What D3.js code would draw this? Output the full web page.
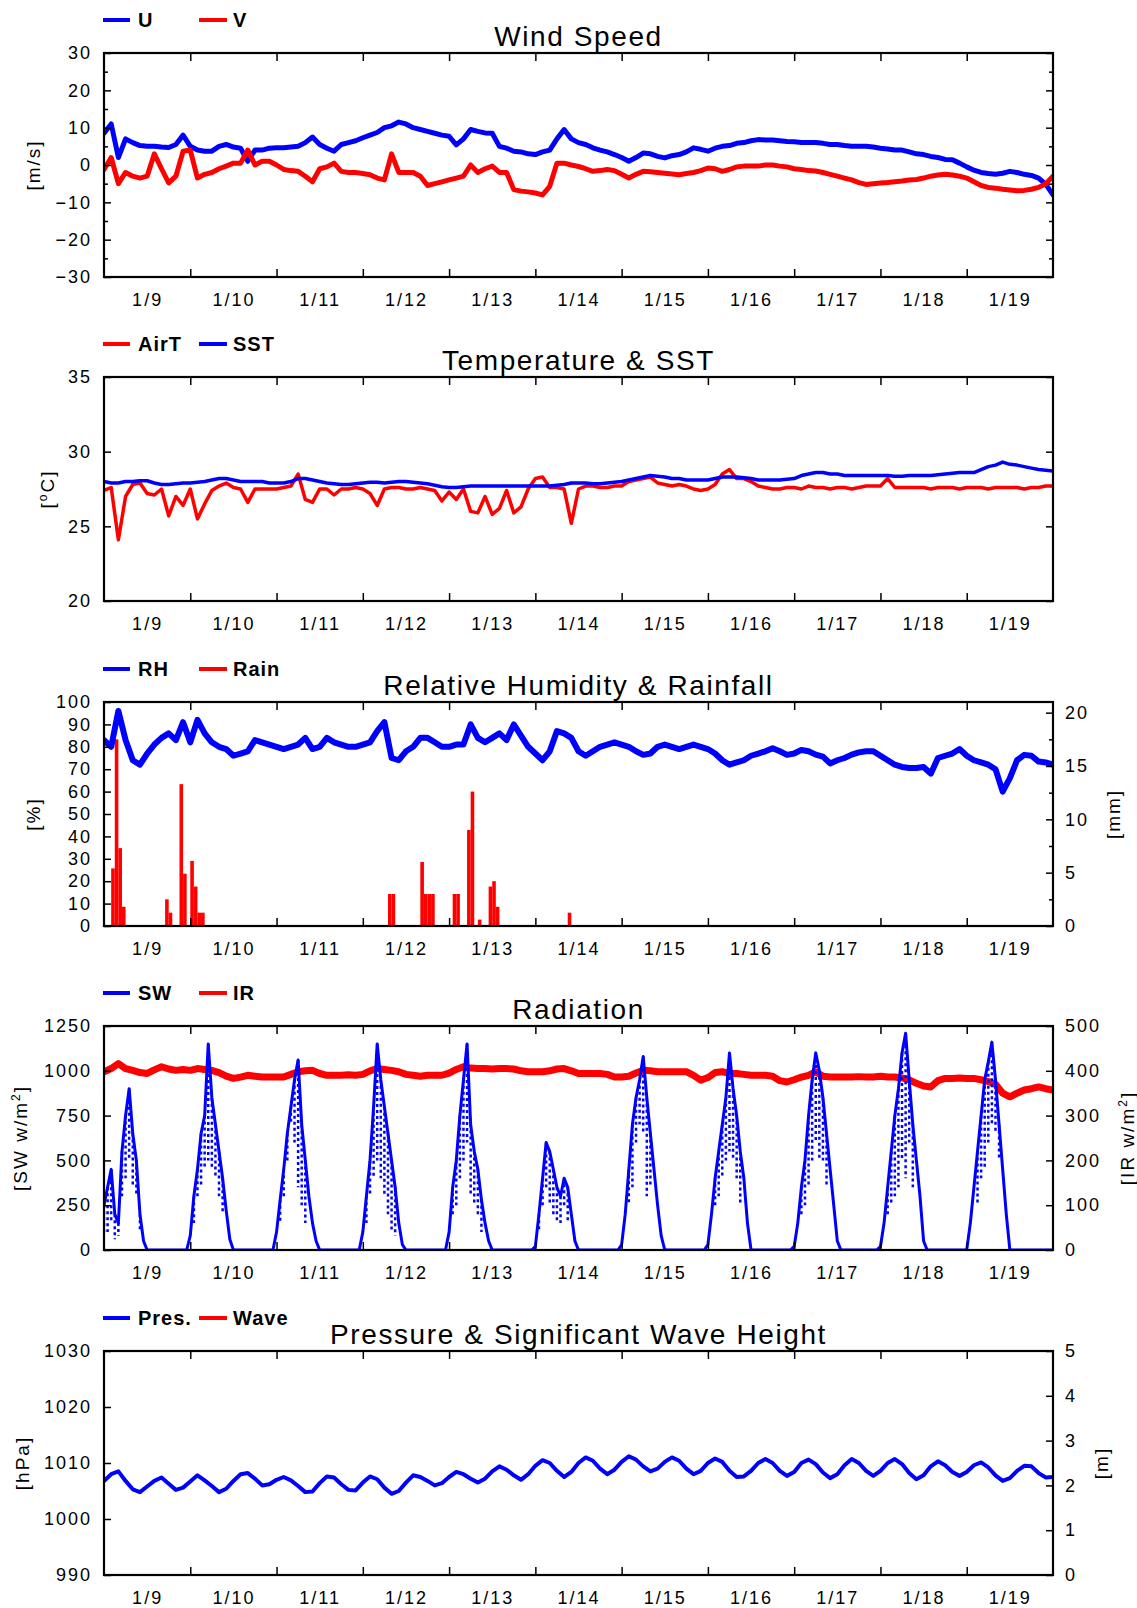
<!DOCTYPE html>
<html>
<head>
<meta charset="utf-8">
<title>Buoy observations</title>
<script src="https://cdn.jsdelivr.net/npm/d3@7"></script>
<style>
  body { margin: 0; background: #fff; }
  svg text { font-family: "Liberation Sans", Arial, sans-serif; fill: #000; }
  .tick-label { font-size: 18px; letter-spacing: 2px; }
  .title { font-size: 28px; letter-spacing: 1.6px; }
  .legend { font-size: 20px; font-weight: bold; letter-spacing: 1px; }
  .axis-title { font-size: 19px; letter-spacing: 2px; }
</style>
</head>
<body>
<svg id="chart"></svg>
<script>
// ---- data (2-hourly unless noted, starting 1/9 00:00) ----
var uWind = [8.5,11,2,7,6,5.2,5,5,4.8,4.7,5.5,8,5,4,3.7,3.7,5,5.5,4.8,4.5,
  1,4,4,4.5,4.6,4.6,4.8,5,6,7.5,5.5,4.5,3.7,5.5,6,6.5,7.3,8,8.7,10,
  10.5,11.5,11,10,9.5,9,8.5,8,7.7,5.4,7,9.5,9,8.6,8.5,5,4.5,3.7,3.5,3,
  2.8,3.5,4,7,9.5,7,6,5.5,4.6,4,3.5,2.8,2,1,2,3.2,3,2.3,1.9,2.5,
  2.8,3.5,4.6,4.2,3.7,4.5,5,5.2,5.8,6,6.5,6.8,6.7,6.7,6.5,6.3,6.2,6,6,6,
  5.8,5.5,5.5,5.2,5,5,5,4.8,4.5,4.3,4,4,3.5,3,2.8,2.3,2,1.5,1.4,0.5,
  -0.5,-1.4,-2,-2.3,-2.5,-2.2,-1.7,-2,-2.5,-2.8,-3.5,-5.2,-8];
var vWind = [-1.2,2,-5,-2,-3,-3.5,-3,3,-1,-4.8,-3,3.7,4,-3.5,-2.5,-2,-1,-0.3,0.5,0.5,
  4,0,1,1,0,-1.2,-1.5,-1.7,-3,-4.5,-1,-0.5,0.5,-1.7,-2,-2,-2.3,-2.6,-3.5,-4,
  3,-2,-2,-2,-3,-5.5,-5,-4.5,-4,-3.5,-3,0,-2,-1,-0.3,-2,-2,-6.6,-7,-7.2,
  -7.5,-8,-5.7,0.5,0.5,0,-0.4,-1,-1.7,-1.5,-1.2,-1.5,-2.5,-3.5,-2.5,-1.7,-1.8,-2,-2.2,-2.4,
  -2.6,-2.3,-2,-1.5,-0.8,-1,-1.7,-1.2,-0.5,-0.3,-0.3,-0.3,0,0,-0.3,-0.5,-1,-1.2,-1.5,-1.6,
  -2,-2.5,-3,-3.5,-4,-4.7,-5.2,-5,-4.8,-4.7,-4.5,-4.3,-4,-3.9,-3.5,-3,-2.7,-2.5,-2.7,-3,
  -3.5,-4.5,-5.5,-6,-6.2,-6.5,-6.7,-6.9,-6.8,-6.5,-6,-5,-3];
var airTemp = [27.4,27.6,24.1,27.0,27.8,27.9,27.2,27.1,27.5,25.7,27.0,26.4,27.5,25.5,26.5,27.4,27.7,27.9,27.6,27.5,
  26.6,27.5,27.5,27.5,27.5,27.6,27.7,28.5,26.8,26.6,27.5,27.5,27.1,27.5,27.5,27.6,27.5,27.2,26.4,27.5,
  27.6,27.6,27.5,27.5,27.6,27.5,27.4,26.7,27.3,26.8,27.5,26.0,25.9,27.0,25.8,26.2,27.4,25.9,26.3,27.5,
  28.2,28.3,27.6,27.6,27.5,25.2,27.5,27.7,27.7,27.6,27.6,27.7,27.7,28.0,28.1,28.2,28.3,27.9,27.8,27.7,
  27.8,27.7,27.5,27.4,27.5,27.8,28.5,28.8,28.2,28.2,28.0,27.7,27.6,27.5,27.5,27.6,27.6,27.5,27.7,27.6,
  27.6,27.5,27.6,27.6,27.5,27.6,27.7,27.7,27.7,28.2,27.6,27.6,27.6,27.6,27.6,27.5,27.6,27.6,27.6,27.5,
  27.6,27.6,27.6,27.5,27.6,27.6,27.6,27.6,27.5,27.6,27.6,27.7,27.7];
var seaTemp = [28.0,27.9,27.9,28.0,28.0,28.05,28.05,27.9,27.8,27.8,27.85,27.9,27.9,27.95,28.0,28.1,28.2,28.2,28.1,28.0,
  28.0,28.0,28.0,27.9,27.9,27.9,28.0,28.2,28.2,28.1,28.0,27.9,27.85,27.8,27.8,27.85,27.9,27.95,27.95,27.9,
  27.95,28.0,28.0,27.95,27.9,27.85,27.75,27.65,27.6,27.6,27.65,27.7,27.7,27.7,27.7,27.7,27.7,27.7,27.7,27.7,
  27.7,27.7,27.7,27.75,27.8,27.9,27.9,27.9,27.85,27.85,27.9,27.95,28.0,28.1,28.2,28.3,28.4,28.35,28.3,28.2,
  28.2,28.1,28.1,28.1,28.1,28.2,28.3,28.3,28.3,28.25,28.2,28.1,28.1,28.1,28.1,28.15,28.2,28.4,28.5,28.6,
  28.6,28.5,28.5,28.4,28.4,28.4,28.4,28.4,28.4,28.4,28.35,28.35,28.4,28.4,28.4,28.4,28.45,28.5,28.55,28.6,
  28.6,28.6,28.8,29.0,29.1,29.3,29.15,29.1,29.0,28.9,28.8,28.75,28.7];
var relHum = [83,80,96,83,74,72,77,81,84,86,83,91,82,92,86,82,80,79,76,77,
  78,83,82,81,80,79,80,81,84,79,80,84,82,81,80,80,81,82,87,91,
  75,74,78,80,84,84,82,80,80,81,81,90,84,82,84,86,83,90,85,80,
  77,74,78,87,86,84,78,76,78,80,81,82,81,80,78,76.4,77,80,81,80,
  79,80,81,80,79,77,74,72,73,74,76,77,78,79.4,78,76.4,77,78.6,78,76.5,
  75.6,72.6,74,75,76.5,77.5,78,78,76,74,72,71,70.5,70.5,71,68,75,76,77,79,
  76,74,73,72,70,60,66,74,76.4,76,73.4,73,72];
// hourly rain: start hour and amount [mm]
var rainHour = [2,3,4,5,17,18,21,22,24,25,26,27,79,80,88,89,90,91,97,98,101,102,104,107,108,109,129];
var rainMm = [5.4,17.5,7.3,1.8,2.5,1.25,13.3,4.9,6.1,3.7,1.25,1.25,3.0,3.0,6.0,3.0,3.0,3.0,3.0,3.0,9.0,12.6,0.6,3.7,4.2,1.8,1.25];
// hourly shortwave, one row per day 1/9 .. 1/19, plus 1/20 00:00
var swRad = [
  250,350,450,200,150,550,750,900,650,500,200,50,0,0,0,0,0,0,0,0,0,0,0,0,
  80,300,450,650,750,1150,850,700,550,400,220,60,0,0,0,0,0,0,0,0,0,0,0,0,
  100,280,450,650,800,950,1060,700,500,300,150,50,0,0,0,0,0,0,0,0,0,0,0,0,
  100,300,500,800,1150,950,800,650,500,350,150,30,0,0,0,0,0,0,0,0,0,0,0,0,
  100,350,500,750,950,1150,700,550,450,280,150,50,0,0,0,0,0,0,0,0,0,0,0,0,
  20,200,400,600,550,450,350,300,400,350,200,50,0,0,0,0,0,0,0,0,0,0,0,0,
  30,200,450,700,850,950,1080,850,650,450,250,80,0,0,0,0,0,0,0,0,0,0,0,0,
  30,200,400,550,700,850,1100,900,750,550,400,150,0,0,0,0,0,0,0,0,0,0,0,0,
  20,150,350,500,750,950,1100,1000,850,650,450,250,50,0,0,0,0,0,0,0,0,0,0,0,
  20,150,350,550,750,900,1100,1210,950,700,500,300,50,0,0,0,0,0,0,0,0,0,0,0,
  0,150,350,550,750,950,1050,1160,950,700,450,200,0,0,0,0,0,0,0,0,0,0,0,0,
  0];
// lowest shortwave samples within cloudy hours (scatter below the envelope)
var swDipHour = [0,1,2,3,4,5,6,7,8,9,10,
  25,26,27,28,29,30,31,32,33,
  49,50,51,52,53,54,55,56,
  73,74,75,76,77,78,79,80,81,
  97,98,99,100,101,102,103,104,105,
  121,122,123,124,125,126,127,128,129,
  146,147,148,149,150,151,152,
  170,171,172,173,174,175,176,177,
  194,195,196,197,198,199,200,201,
  218,219,220,221,222,223,224,225,
  243,244,245,246,247,248,249];
var swDipLow = [100,100,150,60,80,300,400,500,350,300,100,
  150,300,350,450,500,450,400,300,200,
  150,300,500,700,600,350,250,150,
  150,300,400,500,400,300,200,100,80,
  200,250,400,500,600,300,250,200,100,
  100,250,350,250,200,150,150,250,150,
  250,350,600,700,650,300,350,
  250,300,400,500,550,500,400,250,
  200,250,350,500,600,500,500,350,
  200,250,300,350,500,400,600,350,
  250,400,450,600,700,650,500];
var irRad = [398,405,416,405,401,396,394,402,409,404,401,403,401,405,403,401,396,388,383,386,
  390,388,386,386,386,386,392,398,400,401,394,390,390,390,391,390,392,400,405,403,
  401,398,392,390,388,390,390,390,395,403,409,406,405,405,404,405,405,404,400,398,
  398,398,400,404,405,400,394,394,394,394,392,386,386,388,395,401,400,398,398,398,
  398,398,390,379,385,396,398,394,394,392,390,390,390,388,378,375,380,386,390,398,
  388,386,386,386,386,387,386,386,388,386,386,384,380,372,366,364,378,383,383,384,
  383,383,380,376,370,350,342,350,357,360,364,360,357];
var pressure = [1006.8,1008.0,1008.5,1006.8,1005.3,1004.8,1005.8,1006.8,1007.4,1006.3,1005.2,1005.6,1006.7,1007.8,1006.9,1005.9,1004.8,1005.4,1006.8,1008.0,
  1008.2,1007.2,1006.0,1006.2,1007.0,1007.5,1006.9,1005.9,1004.8,1004.9,1006.4,1007.6,1007.4,1006.2,1005.2,1005.1,1006.5,1007.6,1007.1,1005.6,
  1004.5,1005.0,1006.5,1007.8,1007.5,1006.8,1006.0,1006.4,1007.5,1008.4,1008.0,1007.2,1006.5,1007.2,1008.5,1009.4,1008.8,1007.8,1007.0,1008.0,
  1009.5,1010.5,1010.0,1008.6,1007.5,1008.4,1010.0,1011.0,1010.4,1009.0,1008.0,1008.8,1010.2,1011.2,1010.6,1009.4,1008.5,1009.0,1010.2,1011.0,
  1010.4,1009.0,1008.0,1008.6,1010.0,1010.8,1010.2,1008.6,1007.5,1007.6,1008.6,1010.0,1010.7,1010.0,1008.6,1007.7,1008.4,1010.0,1010.6,1009.8,
  1008.3,1007.3,1008.0,1009.6,1010.7,1010.0,1008.6,1007.7,1008.6,1010.0,1010.7,1009.8,1008.2,1007.1,1007.8,1009.4,1010.3,1009.6,1008.4,1007.7,
  1008.4,1009.6,1010.1,1009.2,1007.8,1006.8,1007.3,1008.6,1009.5,1009.4,1008.2,1007.4,1007.5];

// ---- layout ----
var width = 1137, height = 1608;
var plotLeft = 104, plotRight = 1053, plotH = 224;
var panelTops = [53, 377, 702, 1026, 1351];
var BLUE = "#0000ff", RED = "#ff0000";

var dayStart = Date.UTC(2014, 0, 9);
var hourMs = 3600 * 1000;
function at(i, step) { return new Date(dayStart + i * step * hourMs); }

var svg = d3.select("#chart").attr("width", width).attr("height", height);

var x = d3.scaleUtc().domain([at(0, 1), at(264, 1)]).range([plotLeft, plotRight]);
var dayTicks = d3.utcDay.range(at(1, 1), at(264, 1));
var noonTicks = d3.utcDay.range(at(0, 1), at(264, 1)).map(function(d){ return d3.utcHour.offset(d, 12); });

function drawLine(g, vals, step, y, color, w) {
  g.append("path").datum(vals)
    .attr("d", d3.line().x(function(d, i){ return x(at(i, step)); }).y(function(d){ return y(d); }))
    .attr("fill", "none").attr("stroke", color).attr("stroke-width", w)
    .attr("stroke-linejoin", "round").attr("stroke-linecap", "round");
}

function cleanAxis(sel) {
  sel.select(".domain").remove();
  sel.attr("font-size", null).attr("font-family", null);
  sel.selectAll("line").attr("stroke", "#000").attr("stroke-width", 1.5);
  sel.selectAll("text").attr("class", "tick-label");
}

function rotLabel(parts, cx, cy) {
  var t = svg.append("text").attr("class", "axis-title")
    .attr("transform", "translate(" + cx + "," + cy + ") rotate(-90)")
    .attr("text-anchor", "middle").attr("dy", "0.35em");
  parts.forEach(function(p){
    var s = t.append("tspan").text(p.text);
    if (p.sup) s.attr("font-size", 12).attr("dy", -7);
    if (p.down) s.attr("dy", 7);
  });
}

function drawPanel(p, idx) {
  var top = panelTops[idx], bottom = top + plotH;
  var g = svg.append("g");
  var y = d3.scaleLinear().domain(p.yDomain).range([bottom, top]);
  var y2 = p.y2Domain ? d3.scaleLinear().domain(p.y2Domain).range([bottom, top]) : null;

  var clipId = "clip" + idx;
  svg.append("clipPath").attr("id", clipId).append("rect")
    .attr("x", plotLeft).attr("y", top).attr("width", plotRight - plotLeft).attr("height", plotH);
  var plot = g.append("g").attr("clip-path", "url(#" + clipId + ")");
  p.series(plot, y, y2, bottom);

  // x axis: ticks at day boundaries, labels at noon
  g.append("g").attr("transform", "translate(0," + bottom + ")")
    .call(d3.axisBottom(x).tickValues(noonTicks).tickSize(0).tickPadding(16).tickFormat(d3.utcFormat("%-m/%-d")))
    .call(cleanAxis);
  g.append("g").attr("transform", "translate(0," + bottom + ")")
    .call(d3.axisBottom(x).tickValues(dayTicks).tickSize(-8).tickFormat("")).call(cleanAxis);
  g.append("g").attr("transform", "translate(0," + top + ")")
    .call(d3.axisTop(x).tickValues(dayTicks).tickSize(-8).tickFormat("")).call(cleanAxis);

  // left axis
  g.append("g").attr("transform", "translate(" + plotLeft + ",0)")
    .call(d3.axisLeft(y).tickValues(p.yTicks).tickSize(0).tickPadding(12).tickFormat(d3.format("d")))
    .call(cleanAxis);
  g.append("g").attr("transform", "translate(" + plotLeft + ",0)")
    .call(d3.axisLeft(y).tickValues(p.yTicks).tickSize(-7).tickFormat("")).call(cleanAxis);
  if (p.yMinor) g.append("g").attr("transform", "translate(" + plotLeft + ",0)")
    .call(d3.axisLeft(y).tickValues(p.yMinor).tickSize(-4).tickFormat("")).call(cleanAxis);

  // right axis
  if (y2) {
    g.append("g").attr("transform", "translate(" + plotRight + ",0)")
      .call(d3.axisRight(y2).tickValues(p.y2Ticks).tickSize(0).tickPadding(12).tickFormat(d3.format("d")))
      .call(cleanAxis);
    g.append("g").attr("transform", "translate(" + plotRight + ",0)")
      .call(d3.axisRight(y2).tickValues(p.y2Ticks).tickSize(-7).tickFormat("")).call(cleanAxis);
    if (p.y2Minor) g.append("g").attr("transform", "translate(" + plotRight + ",0)")
      .call(d3.axisRight(y2).tickValues(p.y2Minor).tickSize(-4).tickFormat("")).call(cleanAxis);
  } else {
    g.append("g").attr("transform", "translate(" + plotRight + ",0)")
      .call(d3.axisRight(y).tickValues(p.yTicks).tickSize(-7).tickFormat("")).call(cleanAxis);
    if (p.yMinor) g.append("g").attr("transform", "translate(" + plotRight + ",0)")
      .call(d3.axisRight(y).tickValues(p.yMinor).tickSize(-4).tickFormat("")).call(cleanAxis);
  }

  // frame
  g.append("rect").attr("x", plotLeft).attr("y", top)
    .attr("width", plotRight - plotLeft).attr("height", plotH)
    .attr("fill", "none").attr("stroke", "#000").attr("stroke-width", 2.2);

  // title
  svg.append("text").attr("class", "title").attr("text-anchor", "middle")
    .attr("x", (plotLeft + plotRight) / 2).attr("y", top - 7).text(p.title);

  // legend
  var legX = [[103, 130, 138], [199, 227, 233]];
  p.legend.forEach(function(item, k){
    var ly = top - 33;
    svg.append("line").attr("x1", legX[k][0]).attr("x2", legX[k][1]).attr("y1", ly).attr("y2", ly)
      .attr("stroke", item[1]).attr("stroke-width", 4);
    svg.append("text").attr("class", "legend").attr("x", legX[k][2]).attr("y", ly).attr("dy", "0.35em").text(item[0]);
  });

  // axis titles
  rotLabel(p.yTitle, p.yTitleX, top + plotH / 2);
  if (p.y2Title) rotLabel(p.y2Title, p.y2TitleX, top + plotH / 2);
}

var panels = [
  { title: "Wind Speed", yDomain: [-30, 30], yTicks: d3.range(-30, 31, 10), yMinor: d3.range(-25, 26, 10),
    yTitle: [{text: "[m/s]"}], yTitleX: 33,
    legend: [["U", BLUE], ["V", RED]],
    series: function(g, y) {
      drawLine(g, uWind, 2, y, BLUE, 5);
      drawLine(g, vWind, 2, y, RED, 5);
    } },
  { title: "Temperature & SST", yDomain: [20, 35], yTicks: [20, 25, 30, 35],
    yTitle: [{text: "["}, {text: "o", sup: true}, {text: "C]", down: true}], yTitleX: 47,
    legend: [["AirT", RED], ["SST", BLUE]],
    series: function(g, y) {
      drawLine(g, airTemp, 2, y, RED, 3.5);
      drawLine(g, seaTemp, 2, y, BLUE, 3.5);
    } },
  { title: "Relative Humidity & Rainfall", yDomain: [0, 100], yTicks: d3.range(0, 101, 10),
    y2Domain: [0, 21], y2Ticks: [0, 5, 10, 15, 20], y2Minor: [2.5, 7.5, 12.5, 17.5],
    yTitle: [{text: "[%]"}], yTitleX: 33, y2Title: [{text: "[mm]"}], y2TitleX: 1113,
    legend: [["RH", BLUE], ["Rain", RED]],
    series: function(g, y, y2, bottom) {
      g.selectAll("rect.rain").data(rainHour).join("rect").attr("class", "rain")
        .attr("x", function(h){ return x(at(h, 1)); })
        .attr("width", function(h){ return x(at(h + 1, 1)) - x(at(h, 1)); })
        .attr("y", function(h, i){ return y2(rainMm[i]); })
        .attr("height", function(h, i){ return bottom - y2(rainMm[i]); })
        .attr("fill", RED);
      drawLine(g, relHum, 2, y, BLUE, 6);
    } },
  { title: "Radiation", yDomain: [0, 1250], yTicks: d3.range(0, 1251, 250),
    y2Domain: [0, 500], y2Ticks: d3.range(0, 501, 100),
    yTitle: [{text: "[SW w/m"}, {text: "2", sup: true}, {text: "]", down: true}], yTitleX: 20,
    y2Title: [{text: "[IR w/m"}, {text: "2", sup: true}, {text: "]", down: true}], y2TitleX: 1127,
    legend: [["SW", BLUE], ["IR", RED]],
    series: function(g, y, y2) {
      drawLine(g, irRad, 2, y2, RED, 7);
      // scattered cloudy samples below the clear-sky envelope
      g.selectAll("line.swdip").data(swDipHour).join("line").attr("class", "swdip")
        .attr("x1", function(h){ return x(at(h, 1)); }).attr("x2", function(h){ return x(at(h, 1)); })
        .attr("y1", function(h){ return y(swRad[h]); })
        .attr("y2", function(h, i){ return y(swDipLow[i]); })
        .attr("stroke", BLUE).attr("stroke-width", 2.5).attr("stroke-dasharray", "3,3");
      drawLine(g, swRad, 1, y, BLUE, 3);
    } },
  { title: "Pressure & Significant Wave Height", yDomain: [990, 1030], yTicks: d3.range(990, 1031, 10),
    y2Domain: [0, 5], y2Ticks: d3.range(0, 6, 1),
    yTitle: [{text: "[hPa]"}], yTitleX: 22, y2Title: [{text: "[m]"}], y2TitleX: 1101,
    legend: [["Pres.", BLUE], ["Wave", RED]],
    series: function(g, y) {
      drawLine(g, pressure, 2, y, BLUE, 4);
    } }
];

panels.forEach(drawPanel);
</script>
</body>
</html>
